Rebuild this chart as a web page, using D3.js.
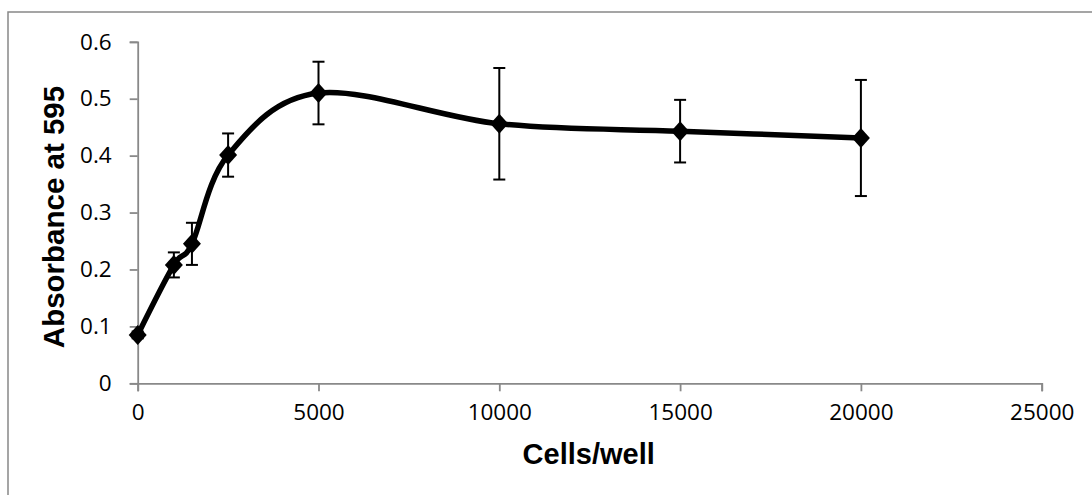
<!DOCTYPE html>
<html><head><meta charset="utf-8">
<script src="https://cdn.jsdelivr.net/npm/d3@7"></script>
<style>html,body{margin:0;padding:0;background:#fff;}svg{display:block;}</style>
</head><body>
<svg id="c" width="1092" height="495"></svg>
<script>
const cells = [0, 1000, 1500, 2500, 5000, 10000, 15000, 20000];
const absorbance = [0.085, 0.208, 0.245, 0.401, 0.510, 0.456, 0.443, 0.431];
const errors = [0.006, 0.022, 0.037, 0.038, 0.055, 0.098, 0.055, 0.102];
const xTicks = [0, 5000, 10000, 15000, 20000, 25000];
const yTicks = [0, 0.1, 0.2, 0.3, 0.4, 0.5, 0.6];
const xTitle = "Cells/well";
const yTitle = "Absorbance at 595";

const svg = d3.select("#c");
svg.append("rect").attr("x", 8).attr("y", 12).attr("width", 1200).attr("height", 600)
  .attr("fill", "none").attr("stroke", "#888").attr("stroke-width", 1.5);

const x = d3.scaleLinear().domain([0, 25000]).range([137.7, 1041.7]);
const y = d3.scaleLinear().domain([0, 0.6]).range([383.3, 41.8]);

const axisColor = "#898989";
const tickFont = "'Open Sans', sans-serif";

const gx = svg.append("g").attr("transform", `translate(0,${y(0)})`)
  .call(d3.axisBottom(x).tickValues(xTicks).tickFormat(d3.format("d")).tickSizeOuter(0).tickSize(8).tickPadding(13));
const gy = svg.append("g").attr("transform", `translate(${x(0)},0)`)
  .call(d3.axisLeft(y).tickValues(yTicks).tickFormat(d => d === 0 ? "0" : d3.format(".1f")(d)).tickSizeOuter(0).tickSize(8).tickPadding(18));
[gx, gy].forEach(g => {
  g.select(".domain").attr("stroke", axisColor).attr("stroke-width", 1.8);
  g.selectAll(".tick line").attr("stroke", axisColor).attr("stroke-width", 1.8);
  g.selectAll(".tick text").attr("fill", "#000").style("font-family", tickFont).style("font-size", "22.5px");
});

svg.append("text").attr("x", (x(0) + x(25000)) / 2 - 1).attr("y", 464)
  .attr("text-anchor", "middle").style("font-family", "'Liberation Sans', Arial, sans-serif")
  .style("font-weight", "bold").style("font-size", "29px").text(xTitle);
svg.append("text").attr("transform", `translate(64,217) rotate(-90)`)
  .attr("text-anchor", "middle").style("font-family", "'Liberation Sans', Arial, sans-serif")
  .style("font-weight", "bold").style("font-size", "29.5px").text(yTitle);

const data = cells.map((c, i) => ({ c, v: absorbance[i], e: errors[i] }));

const line = d3.line().x(d => x(d.c)).y(d => y(d.v)).curve(d3.curveCardinal.tension(0));
svg.append("path").datum(data).attr("d", line).attr("fill", "none")
  .attr("stroke", "#000").attr("stroke-width", 5.5).attr("stroke-linejoin", "round");

const eb = svg.append("g").attr("stroke", "#000").attr("stroke-width", 2);
data.forEach(d => {
  const cx = x(d.c);
  eb.append("line").attr("x1", cx).attr("x2", cx).attr("y1", y(d.v + d.e)).attr("y2", y(d.v - d.e));
  eb.append("line").attr("x1", cx - 6).attr("x2", cx + 6).attr("y1", y(d.v + d.e)).attr("y2", y(d.v + d.e));
  eb.append("line").attr("x1", cx - 6).attr("x2", cx + 6).attr("y1", y(d.v - d.e)).attr("y2", y(d.v - d.e));
});

svg.append("g").selectAll("path").data(data).join("path")
  .attr("d", d => { const cx = x(d.c), cy = y(d.v); return `M${cx},${cy - 10}L${cx + 9},${cy}L${cx},${cy + 10}L${cx - 9},${cy}Z`; })
  .attr("fill", "#000");
</script>
</body></html>
